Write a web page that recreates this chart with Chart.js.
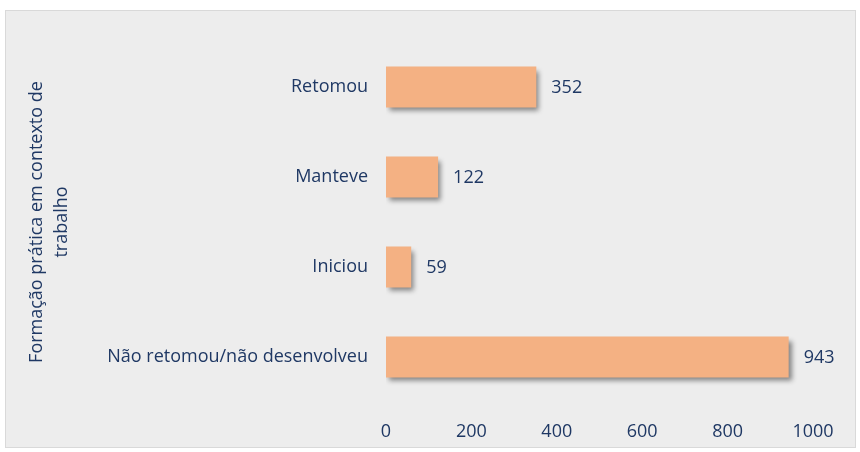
<!DOCTYPE html>
<html>
<head>
<meta charset="utf-8">
<script src="https://cdn.jsdelivr.net/npm/chart.js@4/dist/chart.umd.min.js"></script>
<style>
  html, body { margin: 0; padding: 0; background: #ffffff; }
  #wrap { width: 860px; height: 452px; position: relative; }
</style>
</head>
<body>
<div id="wrap"><canvas id="grafico"></canvas></div>
<script>
// dados do grafico
const categorias = ["Retomou", "Manteve", "Iniciou", "Não retomou/não desenvolveu"];
const valores = [352, 122, 59, 943];
const tituloEixo = ["Formação prática em contexto de", "trabalho"];
const escalaMin = 0, escalaMax = 1000, escalaPasso = 200;

const corTexto = "#1F3864";
const fonte = "'Open Sans', 'Noto Sans', sans-serif";

// fundo cinza com moldura
const fundo = {
    id: "fundo",
    beforeDraw(chart) {
        const c = chart.ctx;
        c.save();
        c.fillStyle = "#ffffff";
        c.fillRect(0, 0, chart.width, chart.height);
        c.fillStyle = "#EDEDED";
        c.fillRect(5.5, 10.5, 850, 437);
        c.strokeStyle = "#D9D9D9";
        c.lineWidth = 1;
        c.strokeRect(5.5, 10.5, 850, 437);
        c.restore();
    }
};

// sombra nas barras + valores ao lado
const sombraEtiquetas = {
    id: "sombraEtiquetas",
    beforeDatasetsDraw(chart) {
        const c = chart.ctx;
        c.save();
        c.shadowColor = "rgba(0,0,0,0.45)";
        c.shadowBlur = 5;
        c.shadowOffsetX = 3;
        c.shadowOffsetY = 4;
    },
    afterDatasetsDraw(chart) {
        const c = chart.ctx;
        c.restore();
        c.save();
        c.font = "18px " + fonte;
        c.fillStyle = corTexto;
        c.textAlign = "left";
        c.textBaseline = "middle";
        chart.getDatasetMeta(0).data.forEach((bar, i) => {
            c.fillText(valores[i], bar.x + 15, bar.y + 1);
        });
        c.restore();
    }
};

var ctx = document.getElementById("grafico").getContext("2d");
var chart = new Chart(ctx, {
    type: "bar",
    data: {
        labels: categorias,
        datasets: [{
            data: valores,
            backgroundColor: "#F4B183",
            borderWidth: 0,
            categoryPercentage: 1,
            barPercentage: 0.455
        }]
    },
    options: {
        indexAxis: "y",
        responsive: true,
        maintainAspectRatio: false,
        animation: false,
        layout: { padding: { left: 20, right: 47, top: 42, bottom: 0 } },
        plugins: { legend: { display: false }, tooltip: { enabled: false } },
        scales: {
            x: {
                min: escalaMin,
                max: escalaMax,
                grid: { display: false, drawTicks: false },
                border: { display: false },
                ticks: {
                    stepSize: escalaPasso,
                    padding: 19,
                    color: corTexto,
                    font: { family: fonte, size: 18 },
                    callback: (v) => String(v)
                },
                afterFit(scale) { scale.height = 50; }
            },
            y: {
                grid: { display: false, drawTicks: false },
                border: { display: false },
                ticks: {
                    padding: 18,
                    color: corTexto,
                    font: { family: fonte, size: 18 }
                },
                title: {
                    display: true,
                    text: tituloEixo,
                    color: corTexto,
                    padding: { top: 5, bottom: 0 },
                    font: { family: fonte, size: 18, lineHeight: 1.35 }
                },
                afterFit(scale) { scale.width = 366; }
            }
        }
    },
    plugins: [fundo, sombraEtiquetas]
});
</script>
</body>
</html>
